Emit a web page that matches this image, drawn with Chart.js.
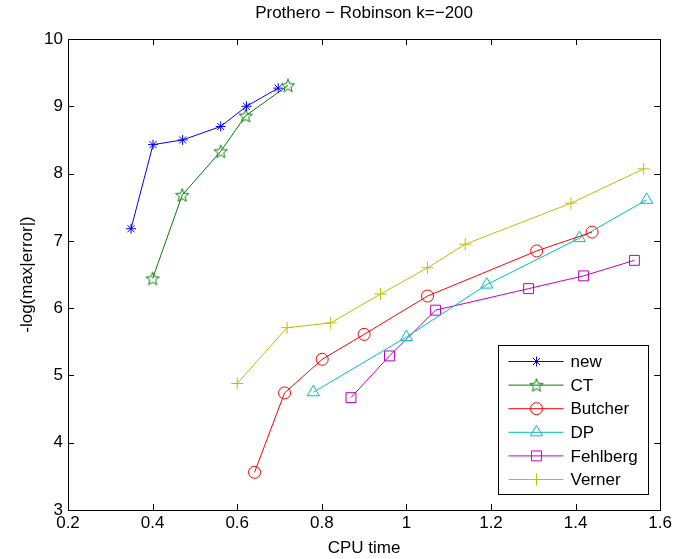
<!DOCTYPE html>
<html>
<head>
<meta charset="utf-8">
<script src="https://cdn.jsdelivr.net/npm/chart.js@4.4.1/dist/chart.umd.min.js"></script>
<style>
  html, body { margin: 0; padding: 0; background: #fff; }
  #wrap { width: 675px; height: 559px; }
</style>
</head>
<body>
<div id="wrap"><canvas id="grafico" width="675" height="559"></canvas></div>
<script>
// datos
var newX = [0.349, 0.401, 0.471, 0.561, 0.622, 0.697];
var newY = [7.18, 8.43, 8.50, 8.70, 9.00, 9.27];

var ctX = [0.400, 0.470, 0.561, 0.620, 0.720];
var ctY = [6.44, 7.68, 8.33, 8.86, 9.31];

var butcherX = [0.641, 0.712, 0.801, 0.900, 1.050, 1.308, 1.439];
var butcherY = [3.56, 4.74, 5.24, 5.61, 6.18, 6.85, 7.13];

var dpX = [0.780, 1.000, 1.190, 1.409, 1.568];
var dpY = [4.75, 5.57, 6.35, 7.04, 7.61];

var fehlbergX = [0.869, 0.960, 1.069, 1.289, 1.419, 1.539];
var fehlbergY = [4.67, 5.29, 5.97, 6.29, 6.48, 6.71];

var vernerX = [0.600, 0.718, 0.821, 0.939, 1.050, 1.139, 1.389, 1.561];
var vernerY = [4.88, 5.71, 5.78, 6.21, 6.60, 6.95, 7.56, 8.07];

var xTicks = [0.2, 0.4, 0.6, 0.8, 1, 1.2, 1.4, 1.6];
var yTicks = [3, 4, 5, 6, 7, 8, 9, 10];

var titulo = 'Prothero − Robinson k=−200';
var fuente = 'Liberation Sans';

function pares(xs, ys) {
    return xs.map(function (x, i) { return { x: x, y: ys[i] }; });
}

// estrella de cinco puntas (pentagrama) para CT
function hacerEstrella(color) {
    var c = document.createElement('canvas');
    c.width = 16; c.height = 16;
    var g = c.getContext('2d');
    g.strokeStyle = color;
    g.lineWidth = 1;
    g.beginPath();
    for (var i = 0; i < 10; i++) {
        var r = (i % 2 === 0) ? 7 : 3;
        var a = -Math.PI / 2 + i * Math.PI / 5;
        var px = 8 + r * Math.cos(a), py = 8.6 + r * Math.sin(a);
        if (i === 0) g.moveTo(px, py); else g.lineTo(px, py);
    }
    g.closePath();
    g.stroke();
    return c;
}
var estrella = hacerEstrella('#008000');

function serie(label, xs, ys, color, estilo, radio) {
    return {
        label: label,
        data: pares(xs, ys),
        borderColor: color,
        backgroundColor: 'rgba(0,0,0,0)',
        borderWidth: 1,
        pointStyle: estilo,
        pointRadius: radio,
        pointBorderColor: color,
        pointBackgroundColor: 'rgba(0,0,0,0)',
        pointBorderWidth: 1,
        showLine: true,
        tension: 0
    };
}

// titulo, caja, marcas hacia adentro y leyenda al estilo matlab
const marcoPlugin = {
    id: 'marco',
    afterDatasetsDraw(chart) {
        const ctx = chart.ctx;
        const a = chart.chartArea;
        const sx = chart.scales.x, sy = chart.scales.y;
        ctx.save();

        ctx.fillStyle = '#000';
        ctx.font = '17px "' + fuente + '"';
        ctx.textAlign = 'center';
        ctx.textBaseline = 'middle';
        ctx.fillText(titulo, (a.left + a.right) / 2, 13);

        ctx.strokeStyle = '#000';
        ctx.lineWidth = 1;
        ctx.beginPath();
        xTicks.forEach(function (v) {
            const p = Math.round(sx.getPixelForValue(v)) + 0.5;
            ctx.moveTo(p, a.bottom); ctx.lineTo(p, a.bottom - 6);
            ctx.moveTo(p, a.top); ctx.lineTo(p, a.top + 6);
        });
        yTicks.forEach(function (v) {
            const p = Math.round(sy.getPixelForValue(v)) + 0.5;
            ctx.moveTo(a.left, p); ctx.lineTo(a.left + 6, p);
            ctx.moveTo(a.right, p); ctx.lineTo(a.right - 6, p);
        });
        ctx.stroke();
        ctx.strokeRect(Math.round(a.left) + 0.5, Math.round(a.top) + 0.5,
            Math.round(a.right - a.left), Math.round(a.bottom - a.top));

        // leyenda
        const w = 150, h = 149;
        const lx = Math.round(a.right - 12 - w) + 0.5;
        const ly = Math.round(a.bottom - 16 - h) + 0.5;
        ctx.fillStyle = '#fff';
        ctx.fillRect(lx, ly, w, h);
        ctx.strokeStyle = '#000';
        ctx.strokeRect(lx, ly, w, h);
        ctx.textBaseline = 'middle';
        ctx.textAlign = 'left';
        chart.data.datasets.forEach(function (ds, i) {
            const y = ly + 16 + i * 23.6;
            ctx.strokeStyle = ds.borderColor;
            ctx.lineWidth = 1;
            ctx.beginPath();
            ctx.moveTo(lx + 10, y); ctx.lineTo(lx + 65, y);
            ctx.stroke();
            ctx.fillStyle = 'rgba(0,0,0,0)';
            Chart.helpers.drawPoint(ctx, {
                pointStyle: ds.pointStyle,
                radius: ds.pointRadius,
                rotation: 0,
                borderWidth: 1
            }, lx + 38, y);
            ctx.fillStyle = '#000';
            ctx.fillText(ds.label, lx + 72, y + 1);
        });
        ctx.restore();
    }
};

const ctxGrafico = document.getElementById('grafico').getContext('2d');
const grafico = new Chart(ctxGrafico, {
    type: 'scatter',
    data: {
        datasets: [
            serie('new', newX, newY, '#0000ff', 'star', 5),
            serie('CT', ctX, ctY, '#008000', estrella, 8),
            serie('Butcher', butcherX, butcherY, '#ff0000', 'circle', 6),
            serie('DP', dpX, dpY, '#00bfbf', 'triangle', 7),
            serie('Fehlberg', fehlbergX, fehlbergY, '#bf00bf', 'rect', 7),
            serie('Verner', vernerX, vernerY, '#bfbf00', 'cross', 6)
        ]
    },
    options: {
        responsive: false,
        animation: false,
        layout: { padding: { left: 0, right: 12, top: 39, bottom: 0 } },
        plugins: {
            legend: { display: false },
            tooltip: { enabled: false },
            title: { display: false }
        },
        scales: {
            x: {
                type: 'linear',
                min: 0.2,
                max: 1.6,
                afterBuildTicks: function (s) { s.ticks = xTicks.map(function (v) { return { value: v }; }); },
                afterFit: function (s) { s.height = 49; },
                grid: { display: false, drawTicks: false },
                border: { display: false },
                ticks: {
                    color: '#000',
                    padding: 3,
                    maxRotation: 0,
                    font: { family: fuente, size: 17 },
                    callback: function (v) { return String(Math.round(v * 10) / 10); }
                },
                title: {
                    display: true,
                    text: 'CPU time',
                    color: '#000',
                    font: { family: fuente, size: 17 },
                    padding: { top: 0, bottom: 0 }
                }
            },
            y: {
                type: 'linear',
                min: 3,
                max: 10,
                afterBuildTicks: function (s) { s.ticks = yTicks.map(function (v) { return { value: v }; }); },
                afterFit: function (s) { s.width = 68; },
                grid: { display: false, drawTicks: false },
                border: { display: false },
                ticks: {
                    color: '#000',
                    padding: 5,
                    font: { family: fuente, size: 17 }
                },
                title: {
                    display: true,
                    text: '-log(max|error|)',
                    color: '#000',
                    font: { family: fuente, size: 17 },
                    padding: { top: 17, bottom: 0 }
                }
            }
        }
    },
    plugins: [marcoPlugin]
});
</script>
</body>
</html>
